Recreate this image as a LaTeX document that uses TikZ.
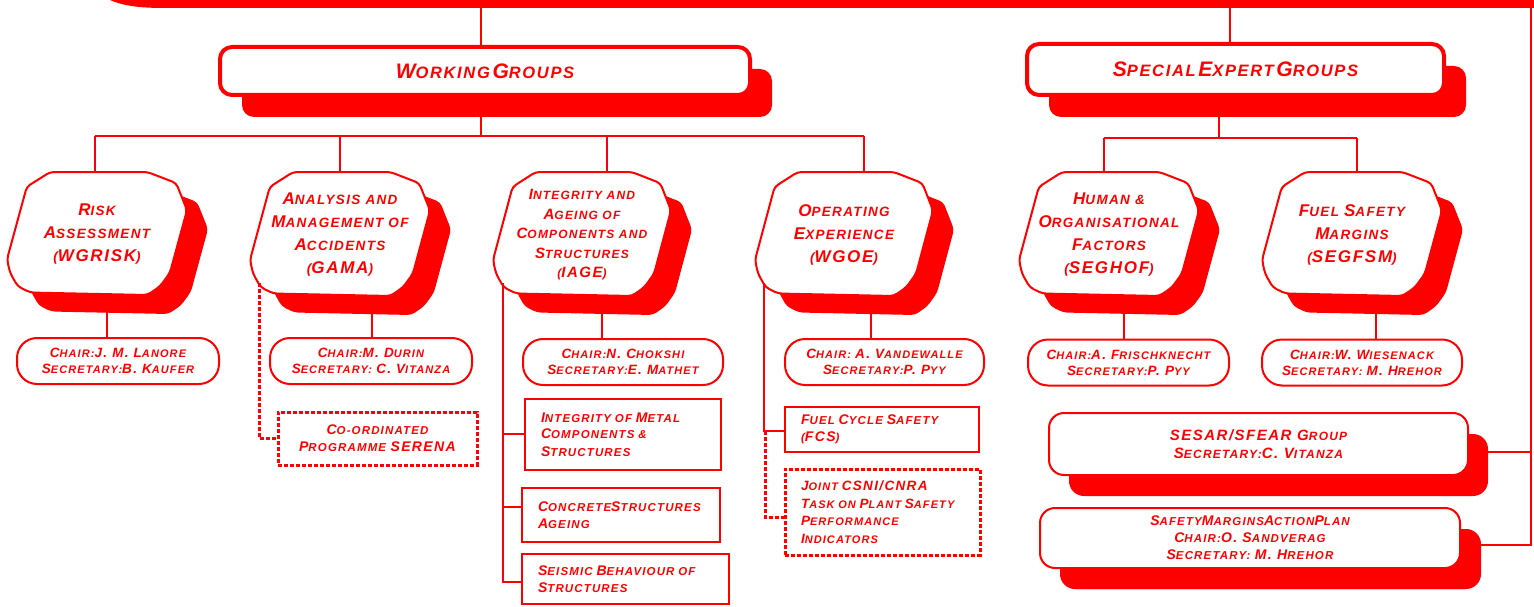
\documentclass[tikz,border=0pt]{standalone}
\usepackage{fontspec}
\setmainfont{Liberation Sans}[LetterSpace=10]
\usetikzlibrary{shadows}
\definecolor{rd}{RGB}{255,0,0}
\newcommand\B[1]{{\fontsize{\bsz}{\bsz}\selectfont #1}}
\newcommand\setsz[3]{\def\bsz{#1}\fontsize{#2}{#3}\selectfont\bfseries\itshape}
% slanted rounded box: #1 options, #2 L, #3 T, #4 R, #5 B
\newcommand\slpath[5]{%
\path[#1] ({#2+0.24*(#4-#2)},#3) -- ({#2+0.78*(#4-#2)},#3) -- ({#2+0.94*(#4-#2)},{#3+0.09*(#5-#3)}) -- ({#4},{#3+0.31*(#5-#3)}) -- ({#2+0.905*(#4-#2)},{#3+0.82*(#5-#3)}) -- ({#2+0.85*(#4-#2)},{#3+0.93*(#5-#3)}) -- ({#2+0.78*(#4-#2)},#5) -- ({#2+0.13*(#4-#2)},{#3+0.98*(#5-#3)}) -- ({#2+0.06*(#4-#2)},{#3+0.93*(#5-#3)}) -- ({#2+0.017*(#4-#2)},{#3+0.82*(#5-#3)}) -- (#2,{#3+0.71*(#5-#3)}) -- ({#2+0.11*(#4-#2)},{#3+0.12*(#5-#3)}) -- cycle;}
% #1 name, #2 L, #3 T, #4 R, #5 B, #6 text, #7 font style
\newcommand\wgbox[7]{%
\slpath{fill=rd, shift={(21,19)}, rounded corners=4pt}{#2}{#3}{#4}{#5}
\slpath{fill=white, draw=rd, line width=2pt, rounded corners=4pt}{#2}{#3}{#4}{#5}
\node[#7, minimum width={#4-#2}, minimum height={#5-#3}] (#1) at ({(#2+#4)/2},{(#3+#5)/2+1}) {#6};}
\tikzset{
 conn/.style={draw=rd, line width=2.5pt},
 thinconn/.style={draw=rd, line width=2pt},
 dotl/.style={draw=rd, line width=3pt, dash pattern=on 4pt off 2pt},
 hdr/.style={draw=rd, fill=white, line width=4pt, rounded corners=12pt, inner sep=0pt,
   text=rd, font=\setsz{21pt}{16.5pt}{20pt},
   drop shadow={shadow xshift=22pt, shadow yshift=-22pt, fill=rd, opacity=1}},
 wgt/.style={text=rd, align=center, inner sep=0pt, font=\setsz{17pt}{13.5pt}{23pt}},
 wgs/.style={text=rd, align=center, inner sep=0pt, font=\setsz{15pt}{12pt}{19.5pt}},
 chair/.style={draw=rd, fill=white, line width=2pt, rounded corners=20pt, text=rd, align=center,
   inner sep=0pt, minimum height=46pt, font=\setsz{13.5pt}{11pt}{16pt}},
 sub/.style={draw=rd, fill=white, line width=2pt, text=rd, align=left, inner xsep=16pt, inner ysep=0pt,
   font=\setsz{14pt}{11.5pt}{17pt}},
 subd/.style={sub, line width=3pt, dash pattern=on 4pt off 2pt},
 big/.style={draw=rd, fill=white, line width=2pt, rounded corners=15pt, text=rd, align=center, inner sep=0pt,
   font=\setsz{15pt}{12pt}{18pt},
   drop shadow={shadow xshift=20pt, shadow yshift=-21pt, fill=rd, opacity=1}},
}
\begin{document}
\begin{tikzpicture}[x=1pt,y=-1pt]
\useasboundingbox (0,0) rectangle (1534,607);
% top band (bottom of an upper box)
\fill[rd] (108,-1) .. controls (122,6) and (140,8) .. (165,8) -- (1534,8) -- (1534,-1) -- cycle;
\coordinate (band) at (0,8);

% headers
\node[hdr, minimum width=530pt, minimum height=48pt] (wg) at (485,71) {\B{W}ORKING\,\B{G}ROUPS};
\node[hdr, minimum width=417pt, minimum height=51pt] (seg) at (1235.5,69.5) {\B{S}PECIAL\,\B{E}XPERT\,\B{G}ROUPS};

% group boxes
\wgbox{risk}{7}{172}{187}{295}{\B{R}ISK\\\B{A}SSESSMENT\\(\B{WGRISK})}{wgt}
\wgbox{gama}{250}{172}{430}{296}{\B{A}NALYSIS AND\\\B{M}ANAGEMENT OF\\\B{A}CCIDENTS\\(\B{GAMA})}{wgt}
\wgbox{iage}{493}{172}{671}{296}{\B{I}NTEGRITY AND\\\B{A}GEING OF\\\B{C}OMPONENTS AND\\\B{S}TRUCTURES\\(\B{IAGE})}{wgs}
\wgbox{wgoe}{755}{172}{933}{296}{\B{O}PERATING\\\B{E}XPERIENCE\\(\B{WGOE})}{wgt}
\wgbox{seghof}{1019}{172}{1199}{296}{\B{H}UMAN \&\\\B{O}RGANISATIONAL\\\B{F}ACTORS\\(\B{SEGHOF})}{wgt}
\wgbox{segfsm}{1262}{172}{1442}{296}{\B{F}UEL \B{S}AFETY\\\B{M}ARGINS\\(\B{SEGFSM})}{wgt}

% chairs
\node[chair, minimum width=202pt] (riskch) at (118,361) {\B{C}HAIR:\B{J. M. L}ANORE\\\B{S}ECRETARY:\B{B. K}AUFER};
\node[chair, minimum width=202pt] (gamach) at (371,361) {\B{C}HAIR:\B{M. D}URIN\\\B{S}ECRETARY: \B{C. V}ITANZA};
\node[chair, minimum width=200pt] (iagech) at (623,362) {\B{C}HAIR:\B{N. C}HOKSHI\\\B{S}ECRETARY:\B{E. M}ATHET};
\node[chair, minimum width=199pt] (wgoech) at (884.5,362) {\B{C}HAIR: \B{A. V}ANDEWALLE\\\B{S}ECRETARY:\B{P. P}YY};
\node[chair, minimum width=201pt] (seghofch) at (1128.5,362.5) {\B{C}HAIR:\B{A. F}RISCHKNECHT\\\B{S}ECRETARY:\B{P. P}YY};
\node[chair, minimum width=200pt] (segfsmch) at (1362,362.5) {\B{C}HAIR:\B{W. W}IESENACK\\\B{S}ECRETARY: \B{M. H}REHOR};

% sub boxes
\node[subd, align=center, inner xsep=0pt, minimum width=199pt, minimum height=53pt] (serena) at (377.5,438.5) {\B{C}O-ORDINATED\\\B{P}ROGRAMME \B{SERENA}};
\node[sub, text width=164pt, minimum height=71.5pt] (metal) at (623,434.25) {\B{I}NTEGRITY OF \B{M}ETAL\\\B{C}OMPONENTS \&\\\B{S}TRUCTURES};
\node[sub, text width=166pt, minimum height=54pt] (concrete) at (621,515) {\B{C}ONCRETE\B{S}TRUCTURES\\\B{A}GEING};
\node[sub, text width=175pt, minimum height=50pt] (seismic) at (625.5,579) {\B{S}EISMIC \B{B}EHAVIOUR OF\\\B{S}TRUCTURES};
\node[sub, text width=162pt, minimum height=45pt] (fcs) at (882,429.5) {\B{F}UEL \B{C}YCLE \B{S}AFETY\\(\B{FCS})};
\node[subd, inner xsep=16pt, text width=163pt, minimum height=86pt, font=\setsz{13.5pt}{11pt}{17.5pt}] (joint) at (882.5,512) {\B{J}OINT \B{CSNI/CNRA}\\\B{T}ASK ON \B{P}LANT \B{S}AFETY\\\B{P}ERFORMANCE\\\B{I}NDICATORS};

% special boxes
\node[big, minimum width=419pt, minimum height=62pt] (sesar) at (1258.5,444) {\B{SESAR/SFEAR G}ROUP\\\B{S}ECRETARY:\B{C. V}ITANZA};
\node[big, minimum width=420pt, minimum height=60pt, font=\setsz{14pt}{11.5pt}{17pt}, drop shadow={shadow xshift=21pt, shadow yshift=-21pt, fill=rd, opacity=1}] (smap) at (1250,538) {\B{S}AFETY\B{M}ARGINS\B{A}CTION\B{P}LAN\\\B{C}HAIR:\B{O. S}ANDVERAG\\\B{S}ECRETARY: \B{M. H}REHOR};

% coordinates for connectors
\coordinate (wgx) at (481,0);
\coordinate (sgx) at (1230,0);
\coordinate (sgy) at (1219,0);
\coordinate (v1) at (95,136);
\coordinate (v2) at (340,136);
\coordinate (v3) at (607,136);
\coordinate (v4) at (864,136);
\coordinate (s1) at (1104,138);
\coordinate (s2) at (1357,138);
\coordinate (c1) at (107,0);
\coordinate (c2) at (372,0);
\coordinate (c3) at (602,0);
\coordinate (c4) at (871,0);
\coordinate (c5) at (1124,0);
\coordinate (c6) at (1376,0);
\coordinate (iL) at (503,283);
\coordinate (iB2) at (503,507);
\coordinate (iB3) at (503,582);
\coordinate (oL) at (764,283);
\coordinate (oB1) at (764,431);
\coordinate (d1) at (765,431);
\coordinate (d2) at (765,517);
\coordinate (g1) at (259,283);
\coordinate (r0) at (1531,8);
\coordinate (r1) at (1531,452);
\coordinate (r2) at (1531,545);

% connectors
\draw[conn] (wgx |- band) -- (wgx |- wg.north);
\draw[conn] (wgx |- wg.south) -- (wgx |- v1);
\draw[conn] (v1) -- (v4);
\draw[conn] (v1) -- (v1 |- risk.north);
\draw[conn] (v2) -- (v2 |- gama.north);
\draw[conn] (v3) -- (v3 |- iage.north);
\draw[conn] (v4) -- (v4 |- wgoe.north);
\draw[conn] (sgx |- band) -- (sgx |- seg.north);
\draw[conn] (sgy |- seg.south) -- (sgy |- s1);
\draw[conn] (s1) -- (s2);
\draw[conn] (s1) -- (s1 |- seghof.north);
\draw[conn] (s2) -- (s2 |- segfsm.north);
\draw[thinconn] (c1 |- risk.south) -- (c1 |- riskch.north);
\draw[thinconn] (c2 |- gama.south) -- (c2 |- gamach.north);
\draw[thinconn] (c3 |- iage.south) -- (c3 |- iagech.north);
\draw[thinconn] (c4 |- wgoe.south) -- (c4 |- wgoech.north);
\draw[thinconn] (c5 |- seghof.south) -- (c5 |- seghofch.north);
\draw[thinconn] (c6 |- segfsm.south) -- (c6 |- segfsmch.north);
\draw[thinconn] (iL) -- (iB3) -- (iB3 -| seismic.west);
\draw[thinconn] (iL |- metal.west) -- (metal.west);
\draw[thinconn] (iB2) -- (iB2 -| concrete.west);
\draw[thinconn] (oL) -- (oB1) -- (oB1 -| fcs.west);
\draw[dotl] (d1) -- (d2) -- (d2 -| joint.west);
\draw[dotl] (g1) |- (serena.west);
\draw[thinconn] (r0) -- (r2) -- (r2 -| smap.east);
\draw[thinconn] (r1) -- (r1 -| sesar.east);
\end{tikzpicture}
\end{document}
